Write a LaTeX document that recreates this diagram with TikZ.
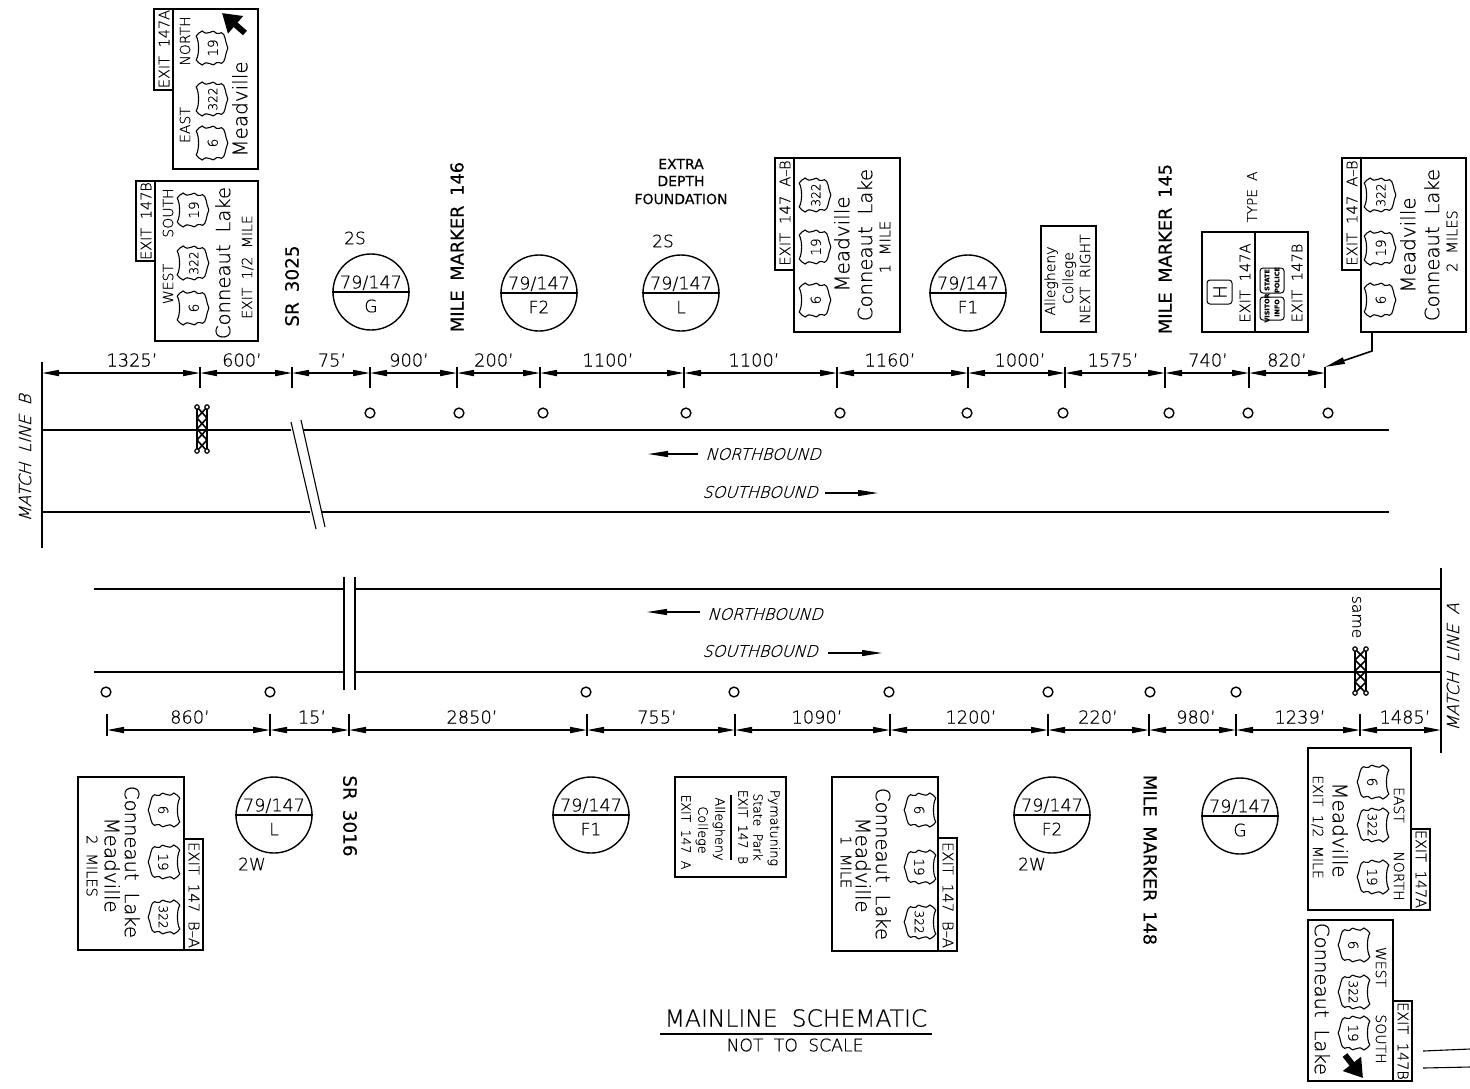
\documentclass[tikz,border=0pt]{standalone}
\usepackage{fontspec}
\setmainfont[FakeBold=0.55,WordSpace=1.9]{DejaVu Sans ExtraLight}
\newfontfamily\rg[FakeBold=0.25,WordSpace=1.7]{DejaVu Sans}
\newfontfamily\ob[FakeSlant=0.3,FakeBold=0.55,WordSpace=1.9]{DejaVu Sans ExtraLight}
\usetikzlibrary{arrows.meta,fit}
\newcounter{nt}
\tikzset{
  lbl/.style={inner sep=0pt,font=\fontsize{#1}{#1}\selectfont,text height=0.73*#1,text depth=0pt},
  signline/.style={draw,line width=1pt,inner sep=0pt,rectangle},
  road/.style={line width=1pt},
  thinline/.style={line width=0.55pt},
  dimline/.style={line width=0.8pt,{Triangle[length=8.5pt,width=3pt]}-{Triangle[length=8.5pt,width=3pt]}},
  tickline/.style={line width=0.75pt},
  dirarrow/.style={line width=0.55pt,-{Triangle[length=10pt,width=3pt]}},
  bigarrow/.style={line width=3pt,-{Triangle[length=9pt,width=11pt]}},
  leader/.style={line width=0.8pt,-{Triangle[length=10pt,width=3.2pt]}},
  pole/.style={circle,draw,line width=0.7pt,inner sep=0pt,minimum size=4.9pt},
  mini/.style={draw,line width=0.5pt,rounded corners=1.5pt,inner sep=0pt,rectangle}
}
% text helpers: size, x, y, text
\newcommand\Tu[4]{\stepcounter{nt}\node[lbl={#1},rotate=90] (n\arabic{nt}) at (#2,#3) {#4};}
\newcommand\Td[4]{\stepcounter{nt}\node[lbl={#1},rotate=-90] (n\arabic{nt}) at (#2,#3) {#4};}
\newcommand\Th[4]{\stepcounter{nt}\node[lbl={#1}] (n\arabic{nt}) at (#2,#3) {#4};}
% rectangle as a named node
\newcommand\Sign[5]{\node[signline,fit={(#2,#3) (#4,#5)}] (#1) {};}
% route shield: x, y, rotation, number, size
\newcommand\Shield[5]{%
  \begin{scope}[shift={(#1,#2)},rotate=#3,x=8.5pt,y=7.9pt]
    \draw[line width=0.55pt]
      (-0.7,1) .. controls (-0.4,0.8) and (0.4,0.8) .. (0.7,1)
      .. controls (0.82,0.92) and (0.92,0.8) .. (1,0.62)
      .. controls (0.86,0.45) and (0.82,0.3) .. (0.92,0.13)
      .. controls (1.04,0) and (1,-0.15) .. (0.86,-0.28)
      .. controls (0.8,-0.38) and (0.9,-0.5) .. (0.9,-0.6)
      .. controls (0.85,-0.85) and (0.4,-0.82) .. (0,-1)
      .. controls (-0.4,-0.82) and (-0.85,-0.85) .. (-0.9,-0.6)
      .. controls (-0.9,-0.5) and (-0.8,-0.38) .. (-0.86,-0.28)
      .. controls (-1,-0.15) and (-1.04,0) .. (-0.92,0.13)
      .. controls (-0.82,0.3) and (-0.86,0.45) .. (-1,0.62)
      .. controls (-0.92,0.8) and (-0.82,0.92) .. (-0.7,1) -- cycle;
    \stepcounter{nt}\node[lbl={#5},transform shape] (n\arabic{nt}) at (0,-0.05) {#4};
  \end{scope}}
% lattice: left, top, right, bottom
\newcommand\Lattice[4]{%
  \begin{scope}[line width=1.2pt]
    \draw (#1,#2) -- (#1,#4) (#3,#2) -- (#3,#4);
    \foreach \k in {0,1,2,3} {
      \pgfmathsetmacro\ya{#2+\k*(#4-#2)/4}
      \pgfmathsetmacro\yb{#2+(\k+1)*(#4-#2)/4}
      \draw[line width=0.8pt] (#1,\ya) -- (#3,\yb) (#3,\ya) -- (#1,\yb);
    }
    \foreach \cx/\cy in {#1/#2,#3/#2,#1/#4,#3/#4}
      \draw[line width=0.6pt,fill=white] (\cx,\cy) circle (1.1pt);
  \end{scope}}
% circle marker: x, y, lower text
\newcommand\Marker[3]{%
  \stepcounter{nt}\node[circle,draw,line width=0.7pt,inner sep=0pt,minimum size=38pt] (c\arabic{nt}) at (#1,#2) {};
  \draw[line width=0.8pt] (c\arabic{nt}.west) -- (c\arabic{nt}.east);
  \Th{8.8pt}{#1}{#2-10}{79/147}
  \Th{8.5pt}{#1}{#2+14}{#3}}
\begin{document}
\begin{tikzpicture}[x=0.5pt,y=-0.5pt]
\useasboundingbox (0,0) rectangle (1470,1088);
\fill[white] (0,0) rectangle (1470,1088);

% ---- upper dimension line
\coordinate (mlb1) at (42,362); \coordinate (mlb2) at (42,548);
\draw[thinline,line width=0.7pt] (mlb1) -- (mlb2);
\coordinate (ta0) at (42,373);
\foreach \i/\x in {1/200,2/292,3/370,4/457,5/540,6/684,7/837,8/968,9/1065,10/1165,11/1249,12/1325} {
  \coordinate (ta\i) at (\x,373);
  \draw[tickline] (\x,367) -- (\x,388);
}
\foreach \i/\j in {0/1,1/2,2/3,3/4,4/5,5/6,6/7,7/8,8/9,9/10,10/11,11/12}
  \draw[dimline] (ta\i) -- (ta\j);
\foreach \x/\t in {132/1325',242/600',332/75',409/900',494/200',608/1100',754/1100',890/1160',1020/1000',1113/1575',1208/740',1287/820'}
  {\Th{8.9pt}{\x}{360}{\t}}

% ---- upper poles
\foreach \i/\x in {1/370,2/459,3/543,4/686,5/840,6/967,7/1063,8/1169,9/1248,10/1328}
  \node[pole] (pa\i) at (\x,413) {};

% ---- upper road
\coordinate (ra1) at (42,430); \coordinate (ra2) at (291,430);
\coordinate (ra3) at (303,430); \coordinate (ra4) at (1389,430);
\coordinate (rb1) at (42,512); \coordinate (rb2) at (310,512);
\coordinate (rb3) at (322,512); \coordinate (rb4) at (1389,512);
\draw[road] (ra1) -- (ra2) (ra3) -- (ra4) (rb1) -- (rb2) (rb3) -- (rb4);
\coordinate (sa1) at (291,422); \coordinate (sa2) at (316,529);
\coordinate (sb1) at (301,420); \coordinate (sb2) at (325,527);
\draw[thinline] (sa1) -- (sa2) (sb1) -- (sb2);
\Lattice{197}{407}{207}{451}

\Tu{8.4pt}{25}{458}{\ob MATCH LINE B}
\coordinate (na1) at (698,454); \coordinate (na2) at (648,454);
\draw[dirarrow] (na1) -- (na2);
\Th{8pt}{763}{454}{\ob NORTHBOUND}
\Th{8pt}{760}{492}{\ob SOUTHBOUND}
\coordinate (sb3) at (825,493); \coordinate (sb4) at (878,493);
\draw[dirarrow] (sb3) -- (sb4);

% ---- upper sign 147A
\Sign{s1}{173}{9}{258}{169}
\Sign{s1t}{154}{9}{173}{90}
\Tu{7.2pt}{164}{49}{EXIT 147A}
\Tu{7pt}{185}{125}{EAST}
\Tu{7pt}{185}{41}{NORTH}
\Shield{212}{143}{90}{6}{6.8pt}
\Shield{212}{99}{90}{322}{6.1pt}
\Shield{212}{48}{90}{19}{6.8pt}
\Tu{10pt}{240}{109}{Meadville}
\coordinate (a1t) at (245,33); \coordinate (a1h) at (222,13);
\draw[bigarrow] (a1t) -- (a1h);

% ---- upper sign 147B
\Sign{s2}{155}{181}{258}{341}
\Sign{s2t}{136}{181}{155}{261}
\Tu{7.2pt}{146}{221}{EXIT 147B}
\Tu{7pt}{168}{284}{WEST}
\Tu{7pt}{168}{213}{SOUTH}
\Shield{193}{308}{90}{6}{6.8pt}
\Shield{193}{263}{90}{322}{6.1pt}
\Shield{193}{210}{90}{19}{6.8pt}
\Tu{9.8pt}{223}{263}{Conneaut Lake}
\Tu{7pt}{247}{267}{EXIT 1/2 MILE}

\Tu{9.2pt}{292}{286}{\rg SR 3025}
\Th{8.5pt}{355}{238}{2S}
\Marker{371}{292}{G}
\Tu{8.9pt}{457}{247}{\rg MILE MARKER 146}
\Marker{539}{293}{F2}
\Th{7pt}{681}{164}{\rg EXTRA}
\Th{7pt}{681}{181}{\rg DEPTH}
\Th{7pt}{681}{199}{\rg FOUNDATION}
\Th{8.5pt}{663}{241}{2S}
\Marker{681}{293}{L}

% ---- sign A-B 1 mile
\Sign{s3}{794}{158}{900}{332}
\Sign{s3t}{775}{158}{794}{270}
\Tu{7.4pt}{785}{213}{EXIT 147 A--B}
\Shield{815}{195}{90}{322}{6.1pt}
\Shield{815}{247}{90}{19}{6.8pt}
\Shield{815}{300}{90}{6}{6.8pt}
\Tu{10pt}{842}{244}{Meadville}
\Tu{9.8pt}{865}{245}{Conneaut Lake}
\Tu{7.3pt}{885}{247}{1 MILE}

\Marker{968}{293}{F1}

% ---- Allegheny sign
\Sign{s4}{1041}{226}{1096}{332}
\Tu{7pt}{1050}{281}{Allegheny}
\Tu{7pt}{1068}{278}{College}
\Tu{7pt}{1085}{279}{NEXT RIGHT}
\Tu{8.9pt}{1165}{249}{\rg MILE MARKER 145}

% ---- type A sign
\Tu{6.8pt}{1252}{197}{TYPE A}
\Sign{s5}{1202}{232}{1308}{332}
\draw[line width=0.9pt] (s5.north west -| 1255,0) -- (s5.south west -| 1255,0);
\Tu{7.3pt}{1245}{283}{EXIT 147A}
\Tu{7.3pt}{1297}{283}{EXIT 147B}
\node[mini,fit={(1207,280) (1232,304)}] (m1) {};
\Tu{9pt}{1220}{292}{H}
\node[mini,fit={(1260,268) (1284,293)}] (m2) {};
\node[mini,fit={(1260,297) (1284,320)}] (m3) {};
\Tu{3.2pt}{1267}{280}{\rg\bfseries STATE}
\Tu{3.2pt}{1277}{280}{\rg\bfseries POLICE}
\Tu{3.2pt}{1267}{308}{\rg\bfseries VISITOR}
\Tu{3.2pt}{1277}{308}{\rg\bfseries INFO}

% ---- right upper sign
\Sign{s6}{1361}{158}{1466}{332}
\Sign{s6t}{1342}{158}{1361}{270}
\Tu{7.4pt}{1352}{213}{EXIT 147 A--B}
\Shield{1380}{195}{90}{322}{6.1pt}
\Shield{1380}{248}{90}{19}{6.8pt}
\Shield{1380}{300}{90}{6}{6.8pt}
\Tu{10pt}{1408}{245}{Meadville}
\Tu{9.8pt}{1432}{245}{Conneaut Lake}
\Tu{7.3pt}{1452}{241}{2 MILES}
\coordinate (ld1) at (1372,332); \coordinate (ld2) at (1372,351); \coordinate (ld3) at (1325,367);
\draw[leader] (ld1) -- (ld2) -- (ld3);

% ---- lower road
\coordinate (rc1) at (94,589); \coordinate (rc2) at (344,589);
\coordinate (rc3) at (355,589); \coordinate (rc4) at (1441,589);
\coordinate (rd1) at (94,672); \coordinate (rd2) at (344,672);
\coordinate (rd3) at (355,672); \coordinate (rd4) at (1441,672);
\draw[road] (rc1) -- (rc2) (rc3) -- (rc4) (rd1) -- (rd2) (rd3) -- (rd4);
\coordinate (va1) at (344,577); \coordinate (va2) at (344,690);
\coordinate (vb1) at (355,577); \coordinate (vb2) at (355,690);
\draw[thinline] (va1) -- (va2) (vb1) -- (vb2);
\coordinate (mla1) at (1441,568); \coordinate (mla2) at (1441,753);
\draw[line width=0.7pt] (mla1) -- (mla2);
\Tu{8.4pt}{1453}{667}{\ob MATCH LINE A}
\Lattice{1355}{649}{1366}{693}
\Td{7.8pt}{1358}{617}{same}

\coordinate (nc1) at (700,612); \coordinate (nc2) at (647,612);
\draw[dirarrow] (nc1) -- (nc2);
\Th{8pt}{765}{614}{\ob NORTHBOUND}
\Th{8pt}{760}{651}{\ob SOUTHBOUND}
\coordinate (sc1) at (828,653); \coordinate (sc2) at (882,653);
\draw[dirarrow] (sc1) -- (sc2);

% ---- lower poles
\foreach \i/\x in {1/106,2/270,3/586,4/734,5/889,6/1048,7/1150,8/1236}
  \node[pole] (pb\i) at (\x,692) {};

% ---- lower dimension line
\foreach \i/\x in {0/107,1/270,2/349,3/587,4/735,5/890,6/1048,7/1149,8/1236,9/1360} {
  \coordinate (tb\i) at (\x,730);
  \draw[tickline] (\x,714) -- (\x,736);
}
\coordinate (tb10) at (1441,730);
\foreach \i/\j in {0/1,1/2,2/3,3/4,4/5,5/6,6/7,7/8,8/9,9/10}
  \draw[dimline] (tb\i) -- (tb\j);
\foreach \x/\t in {190/860',312/15',472/2850',657/755',817/1090',971/1200',1098/220',1196/980',1300/1239',1405/1485'}
  {\Th{8.9pt}{\x}{717}{\t}}

% ---- lower sign 1
\Sign{s7}{78}{777}{184}{950}
\Sign{s7t}{184}{839}{203}{950}
\Td{7.4pt}{194}{895}{EXIT 147 B--A}
\Shield{164}{810}{-90}{6}{6.8pt}
\Shield{164}{862}{-90}{19}{6.8pt}
\Shield{164}{917}{-90}{322}{6.1pt}
\Td{9.8pt}{132}{862}{Conneaut Lake}
\Td{10pt}{112}{865}{Meadville}
\Td{7.3pt}{92}{866}{2 MILES}

\Marker{274}{815}{L}
\Th{8.5pt}{252}{864}{2W}
\Td{9.2pt}{350}{816}{\rg SR 3016}
\Marker{591}{815}{F1}

% ---- Pymatuning sign
\Sign{s8}{675}{777}{786}{877}
\Td{6.4pt}{775}{828}{Pymatuning}
\Td{6.2pt}{758}{827}{State Park}
\Td{6.2pt}{743}{827}{EXIT 147 B}
\coordinate (pl1) at (731,795); \coordinate (pl2) at (731,860);
\draw[thinline] (pl1) -- (pl2);
\Td{6.4pt}{720}{829}{Allegheny}
\Td{6.4pt}{703}{830}{College}
\Td{6.2pt}{686}{832}{EXIT 147 A}

% ---- lower sign 2
\Sign{s9}{832}{777}{938}{951}
\Sign{s9t}{938}{838}{957}{951}
\Td{7.4pt}{948}{895}{EXIT 147 B--A}
\Shield{920}{810}{-90}{6}{6.8pt}
\Shield{920}{867}{-90}{19}{6.8pt}
\Shield{920}{922}{-90}{322}{6.1pt}
\Td{9.8pt}{883}{864}{Conneaut Lake}
\Td{10pt}{863}{865}{Meadville}
\Td{7.3pt}{846}{862}{1 MILE}

\Marker{1052}{815}{F2}
\Th{8.5pt}{1032}{864}{2W}
\Td{8.9pt}{1150}{860}{\rg MILE MARKER 148}
\Marker{1240}{816}{G}

% ---- lower sign 147A
\Sign{s10}{1308}{748}{1411}{910}
\Sign{s10t}{1411}{829}{1430}{910}
\Td{7.2pt}{1421}{869}{EXIT 147A}
\Td{7pt}{1399}{805}{EAST}
\Td{7pt}{1399}{876}{NORTH}
\Shield{1373}{782}{-90}{6}{6.8pt}
\Shield{1373}{825}{-90}{322}{6.1pt}
\Shield{1373}{877}{-90}{19}{6.8pt}
\Td{10pt}{1340}{830}{Meadville}
\Td{7pt}{1318}{827}{EXIT 1/2 MILE}

% ---- lower sign 147B
\Sign{s11}{1308}{920}{1393}{1081}
\Sign{s11t}{1393}{1001}{1412}{1081}
\Td{7.2pt}{1403}{1041}{EXIT 147B}
\Td{7pt}{1381}{967}{WEST}
\Td{7pt}{1381}{1039}{SOUTH}
\Shield{1354}{945}{-90}{6}{6.8pt}
\Shield{1354}{992}{-90}{322}{6.1pt}
\Shield{1354}{1033}{-90}{19}{6.8pt}
\Td{9.8pt}{1322}{999}{Conneaut Lake}
\coordinate (a2t) at (1345,1055); \coordinate (a2h) at (1363,1078);
\draw[bigarrow] (a2t) -- (a2h);

% ---- fragment at the right edge
\coordinate (fa1) at (1423,1051); \coordinate (fa2) at (1470,1049);
\coordinate (fb1) at (1423,1068); \coordinate (fb2) at (1470,1067);
\draw[thinline] (fa1) -- (fa2) (fb1) -- (fb2);

% ---- title
\Th{11.7pt}{796}{1018}{MAINLINE SCHEMATIC}
\coordinate (tr1) at (660,1034); \coordinate (tr2) at (932,1034);
\draw[thinline,line width=0.7pt] (tr1) -- (tr2);
\Th{8.6pt}{795}{1045}{NOT TO SCALE}
\end{tikzpicture}
\end{document}
